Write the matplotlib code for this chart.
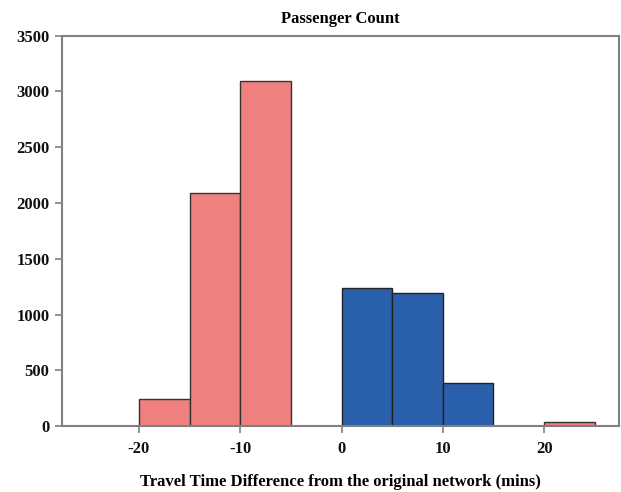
import matplotlib
matplotlib.use('Agg')
import matplotlib.pyplot as plt

# bins are 5 minutes wide
bin_width = 5
worse_left = [-20, -15, -10, 20]
worse_count = [240, 2090, 3090, 35]
better_left = [0, 5, 10]
better_count = [1240, 1190, 390]

x_ticks = [-20, -10, 0, 10, 20]
y_ticks = [0, 500, 1000, 1500, 2000, 2500, 3000, 3500]

plt.rcParams['font.family'] = ['Liberation Serif', 'DejaVu Serif']
plt.rcParams['font.weight'] = 'bold'
plt.rcParams['axes.unicode_minus'] = False

fig = plt.figure(figsize=(6.21, 4.92), dpi=100)
ax = fig.add_axes([0.0998, 0.134, 0.8970, 0.7934])

ax.bar(worse_left, worse_count, width=bin_width, align='edge',
       color='#F08080', edgecolor='#333333', linewidth=1.0)
ax.bar(better_left, better_count, width=bin_width, align='edge',
       color='#2A5FAC', edgecolor='#222222', linewidth=1.0)

ax.set_xlim(-27.6, 27.4)
ax.set_ylim(0, 3500)
ax.set_xticks(x_ticks)
ax.set_yticks(y_ticks)

for s in ax.spines.values():
    s.set_color('#808080')
    s.set_linewidth(1.5)

ax.tick_params(axis='both', direction='out', length=5, width=1.2, color='#808080',
               labelsize=12, labelcolor='#111111')
ax.tick_params(axis='x', pad=6)
ax.tick_params(axis='y', pad=4)
for lab in ax.get_xticklabels() + ax.get_yticklabels():
    lab.set_fontweight('bold')

ax.set_title('Passenger Count', fontsize=12, fontweight='bold', pad=9)
ax.set_xlabel('Travel Time Difference from the original network (mins)',
              fontsize=12, fontweight='bold', labelpad=12)

fig.savefig('out.png', dpi=100)
